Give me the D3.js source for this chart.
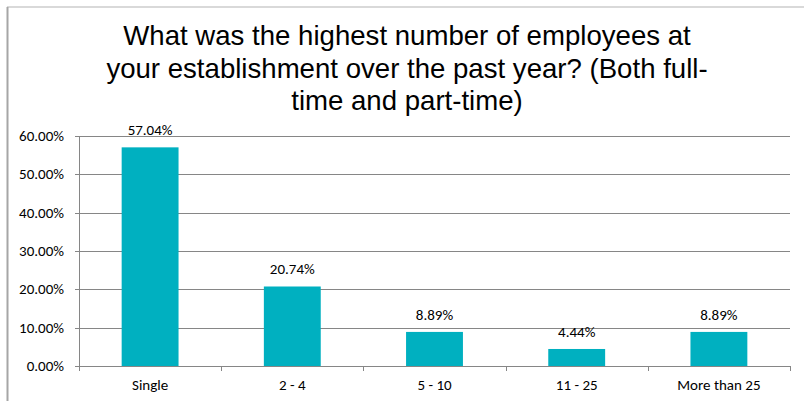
<!DOCTYPE html>
<html>
<head>
<meta charset="utf-8">
<script src="https://cdn.jsdelivr.net/npm/d3@7"></script>
<style>
  body { margin: 0; background: #fff; }
  svg { display: block; }
</style>
</head>
<body>
<div id="chart"></div>
<script>
var titleLines = ["What was the highest number of employees at",
                  "your establishment over the past year? (Both full-",
                  "time and part-time)"]
var categories = ["Single", "2 - 4", "5 - 10", "11 - 25", "More than 25"]
var values = [57.04, 20.74, 8.89, 4.44, 8.89]
var yTicks = [0, 10, 20, 30, 40, 50, 60]

var width = 804, height = 401
var plotLeft = 79, plotRight = 790, plotTop = 136, plotBottom = 366

var svg = d3.select("#chart").append("svg")
    .attr("width", width)
    .attr("height", height)

// frame edges
svg.append("line")
    .attr("x1", 7).attr("y1", 7).attr("x2", width).attr("y2", 7)
    .style("stroke", "#d9d9d9").style("stroke-width", 2)
svg.append("line")
    .attr("x1", 7.5).attr("y1", 7).attr("x2", 7.5).attr("y2", height)
    .style("stroke", "#a6a6a6").style("stroke-width", 2)

// title
svg.append("text")
    .attr("text-anchor", "middle")
    .style("font-family", "Liberation Sans, Arial, sans-serif")
    .style("font-size", "27.6px")
    .style("fill", "#000")
    .selectAll("tspan")
    .data(titleLines)
    .join("tspan")
    .attr("x", 407)
    .attr("y", function (d, i) { return 45 + i * 32.5 })
    .text(function (d) { return d })

var x = d3.scaleBand().domain(categories).range([plotLeft, plotRight]).paddingInner(0.6).paddingOuter(0.3)
var y = d3.scaleLinear().domain([0, 60]).range([plotBottom, plotTop])

var g = svg.append("g")

// gridlines
g.selectAll(".grid")
    .data(yTicks)
    .join("line")
    .attr("x1", plotLeft - 4)
    .attr("x2", plotRight)
    .attr("y1", function (d) { return Math.round(y(d)) + 0.5 })
    .attr("y2", function (d) { return Math.round(y(d)) + 0.5 })
    .style("stroke", "#868686")
    .style("stroke-width", 1)

// y axis line
g.append("line")
    .attr("x1", plotLeft + 0.5).attr("x2", plotLeft + 0.5)
    .attr("y1", plotTop).attr("y2", plotBottom)
    .style("stroke", "#868686")

// x ticks at category boundaries
var step = (plotRight - plotLeft) / categories.length
g.selectAll(".xtick")
    .data(d3.range(categories.length + 1))
    .join("line")
    .attr("x1", function (d) { return Math.round(plotLeft + d * step) + 0.5 })
    .attr("x2", function (d) { return Math.round(plotLeft + d * step) + 0.5 })
    .attr("y1", plotBottom)
    .attr("y2", plotBottom + 5)
    .style("stroke", "#868686")

var labelFont = "Carlito, 'Open Sans', sans-serif"

// y labels
g.selectAll(".ylab")
    .data(yTicks)
    .join("text")
    .attr("x", 64)
    .attr("y", function (d) { return y(d) + 5 })
    .attr("text-anchor", "end")
    .style("font-family", labelFont)
    .style("font-size", "15px")
    .style("fill", "#000")
    .text(function (d) { return d.toFixed(2) + "%" })

// bars
g.selectAll(".bar")
    .data(values)
    .join("rect")
    .attr("x", function (d, i) { return x(categories[i]) })
    .attr("width", x.bandwidth())
    .attr("y", function (d) { return y(d) })
    .attr("height", function (d) { return plotBottom - y(d) })
    .style("fill", "#00b0c0")

// value labels
g.selectAll(".vlab")
    .data(values)
    .join("text")
    .attr("x", function (d, i) { return x(categories[i]) + x.bandwidth() / 2 })
    .attr("y", function (d) { return y(d) - 12 })
    .attr("text-anchor", "middle")
    .style("font-family", labelFont)
    .style("font-size", "15px")
    .style("fill", "#000")
    .text(function (d) { return d.toFixed(2) + "%" })

// category labels
g.selectAll(".xlab")
    .data(categories)
    .join("text")
    .attr("x", function (d) { return x(d) + x.bandwidth() / 2 })
    .attr("y", 390)
    .attr("text-anchor", "middle")
    .style("font-family", labelFont)
    .style("font-size", "15px")
    .style("fill", "#000")
    .text(function (d) { return d })
</script>
</body>
</html>
